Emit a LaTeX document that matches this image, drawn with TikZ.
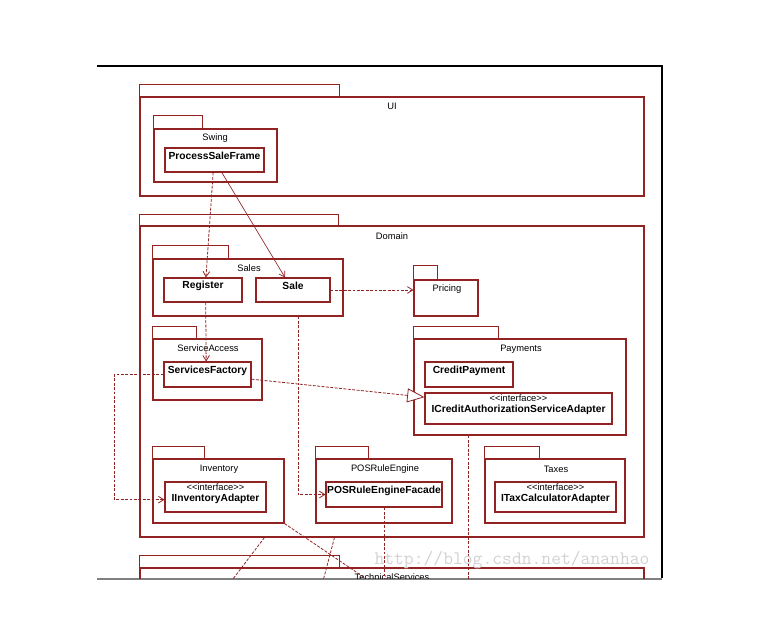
\documentclass[tikz,border=0pt]{standalone}
\usepackage{fontspec}
\setmainfont{Liberation Sans}
\usetikzlibrary{arrows.meta,fit,calc}
\definecolor{umlred}{RGB}{145,35,35}
\newcommand{\stereo}[1]{{\mdseries\fontsize{7}{8.3}\selectfont
  \textless\kern0pt\textless#1\textgreater\kern0pt\textgreater}}

\begin{document}
\begin{tikzpicture}[x=0.75pt,y=-0.75pt,
    pkg/.style={draw=umlred,line width=0.8pt,inner sep=0pt},
    pkgtab/.style={draw=umlred,line width=0.8pt},
    cls/.style={draw=umlred,line width=0.8pt,inner sep=0pt,align=center,
      font=\fontsize{7.7}{8.3}\selectfont\bfseries},
    cls1/.style={cls,text height=5.6pt,text depth=5pt},
    lbl/.style={inner sep=0pt,font=\fontsize{7}{8.3}\selectfont},
    dline/.style={draw=umlred,line width=0.6pt,dash pattern=on 2.2pt off 1.1pt},
    dep/.style={dline,-{Straight Barb[length=4pt,width=5pt]}},
    assoc/.style={draw=umlred,line width=0.5pt,-{Straight Barb[length=4pt,width=5pt]}},
    real/.style={dline,-{Triangle[open,length=13pt,width=10.5pt,fill=white]}}]
      \useasboundingbox (0,0) rectangle (759,625);

      % Page frame
      \draw[black,line width=1.4pt] (97,66) -- (662,66) -- (662,578);
      \draw[gray,line width=0.8pt] (97,579) -- (662,579);

      \begin{scope}
      \clip (97,67) rectangle (661,578);

      % ==== UI ====
      \node[pkg,fit={(140,97) (644,196)}] (ui) {};
      \draw[pkgtab] (ui.north west) rectangle ++(200,-12);
      \node[lbl] (uilbl) at (392,106) {UI};

      \node[pkg,fit={(154,129) (277,182)}] (swing) {};
      \draw[pkgtab] (swing.north west) rectangle ++(49,-13);
      \node[lbl] (swinglbl) at (215,138) {Swing};
      \node[cls1,text depth=8pt,fit={(165,148) (264,172)}] (psf) {ProcessSaleFrame};

      % ==== Domain ====
      \node[pkg,fit={(140,226) (644,537)}] (domain) {};
      \draw[pkgtab] (domain.north west) rectangle ++(199,-11);
      \node[lbl] (domainlbl) at (392,236) {Domain};

      % Sales
      \node[pkg,fit={(153,259) (343,316)}] (sales) {};
      \draw[pkgtab] (sales.north west) rectangle ++(76,-13);
      \node[lbl] (saleslbl) at (249,268) {Sales};
      \node[cls1,fit={(164,278) (242,302)}] (register) {Register};
      \node[cls1,fit={(256,278) (330,302)}] (sale) {Sale};

      % Pricing
      \node[pkg,fit={(414,280) (478,316)}] (pricing) {};
      \draw[pkgtab] (pricing.north west) rectangle ++(24,-14);
      \node[lbl] (pricinglbl) at (447,289) {Pricing};

      % ServiceAccess
      \node[pkg,fit={(153,339) (262,400)}] (svcaccess) {};
      \draw[pkgtab] (svcaccess.north west) rectangle ++(44,-12);
      \node[lbl] (svcaccesslbl) at (208,348) {ServiceAccess};
      \node[cls1,fit={(164,362) (251,387)}] (svcfactory) {ServicesFactory};

      % Payments
      \node[pkg,fit={(414,339) (626,435)}] (payments) {};
      \draw[pkgtab] (payments.north west) rectangle ++(85,-12);
      \node[lbl] (paymentslbl) at (521,349) {Payments};
      \node[cls1,fit={(425,362) (513,387)}] (creditpay) {CreditPayment};
      \node[cls,fit={(425,393) (612,424)}] (icredit)
        {\stereo{interface}\\ICreditAuthorizationServiceAdapter};

      % Inventory
      \node[pkg,fit={(153,459) (284,523)}] (inventory) {};
      \draw[pkgtab] (inventory.north west) rectangle ++(52,-12);
      \node[lbl] (inventorylbl) at (219,469) {Inventory};
      \node[cls,fit={(165,482) (266,512)}] (iinventory)
        {\stereo{interface}\\IInventoryAdapter};

      % POSRuleEngine
      \node[pkg,fit={(316,459) (452,523)}] (posengine) {};
      \draw[pkgtab] (posengine.north west) rectangle ++(53,-12);
      \node[lbl] (posenginelbl) at (385,469) {POSRuleEngine};
      \node[cls1,fit={(326,482) (442,507)}] (posfacade) {POSRuleEngineFacade};

      % Taxes
      \node[pkg,fit={(485,459) (625,523)}] (taxes) {};
      \draw[pkgtab] (taxes.north west) rectangle ++(55,-12);
      \node[lbl] (taxeslbl) at (556,469) {Taxes};
      \node[cls,fit={(495,482) (616,512)}] (itaxcalc)
        {\stereo{interface}\\ITaxCalculatorAdapter};

      % ==== TechnicalServices (cut off) ====
      \node[pkg,fit={(140,568) (644,640)}] (techsvc) {};
      \draw[pkgtab] (techsvc.north west) rectangle ++(200,-12);
      \node[lbl] (techsvclbl) at (392,577.5) {TechnicalServices};

      % Dependencies
      \draw[dep] ([xshift=-1pt]psf.south) -- ([xshift=2.2pt]register.north);
      \draw[assoc] ([xshift=5.5pt]psf.south) -- ([xshift=-6pt]sale.north);
      \draw[dep] ([xshift=2pt]register.south) -- ([xshift=-1pt]svcfactory.north);
      \draw[dep] (sale.east) -- (sale.east -| pricing.west);
      \draw[real] ([yshift=-3.5pt]svcfactory.east) -- ([yshift=8.5pt]icredit.west);
      \draw[dep] (svcfactory.west) -- ++(-49,0) |- ([yshift=-2pt]iinventory.west);
      \draw[dep] ([xshift=3.75pt]sale.south |- sales.south) |- (posfacade.west);

      % Lines running down into TechnicalServices
      \coordinate (payA) at (468,600);
      \coordinate (posB) at (384,600);
      \coordinate (domC) at (217,600);
      \coordinate (domD) at (318,600);
      \coordinate (invE) at (365,578);
      \draw[dline] (payments.south -| payA) -- (payA);
      \draw[dline] (posfacade.south) -- (posB);
      \draw[dline] ($(domain.south west)+(125,0)$) -- (domC);
      \draw[dline] ($(domain.south west)+(195,0)$) -- (domD);
      \draw[dline] (inventory.south east) -- (invE);
      \end{scope}

      % Watermark
      \node[inner sep=0pt,text=gray!35,font=\ttfamily\fontsize{14.3}{16}\selectfont]
        (watermark) at (512,560) {http://blog.csdn.net/ananhao};
\end{tikzpicture}
\end{document}
